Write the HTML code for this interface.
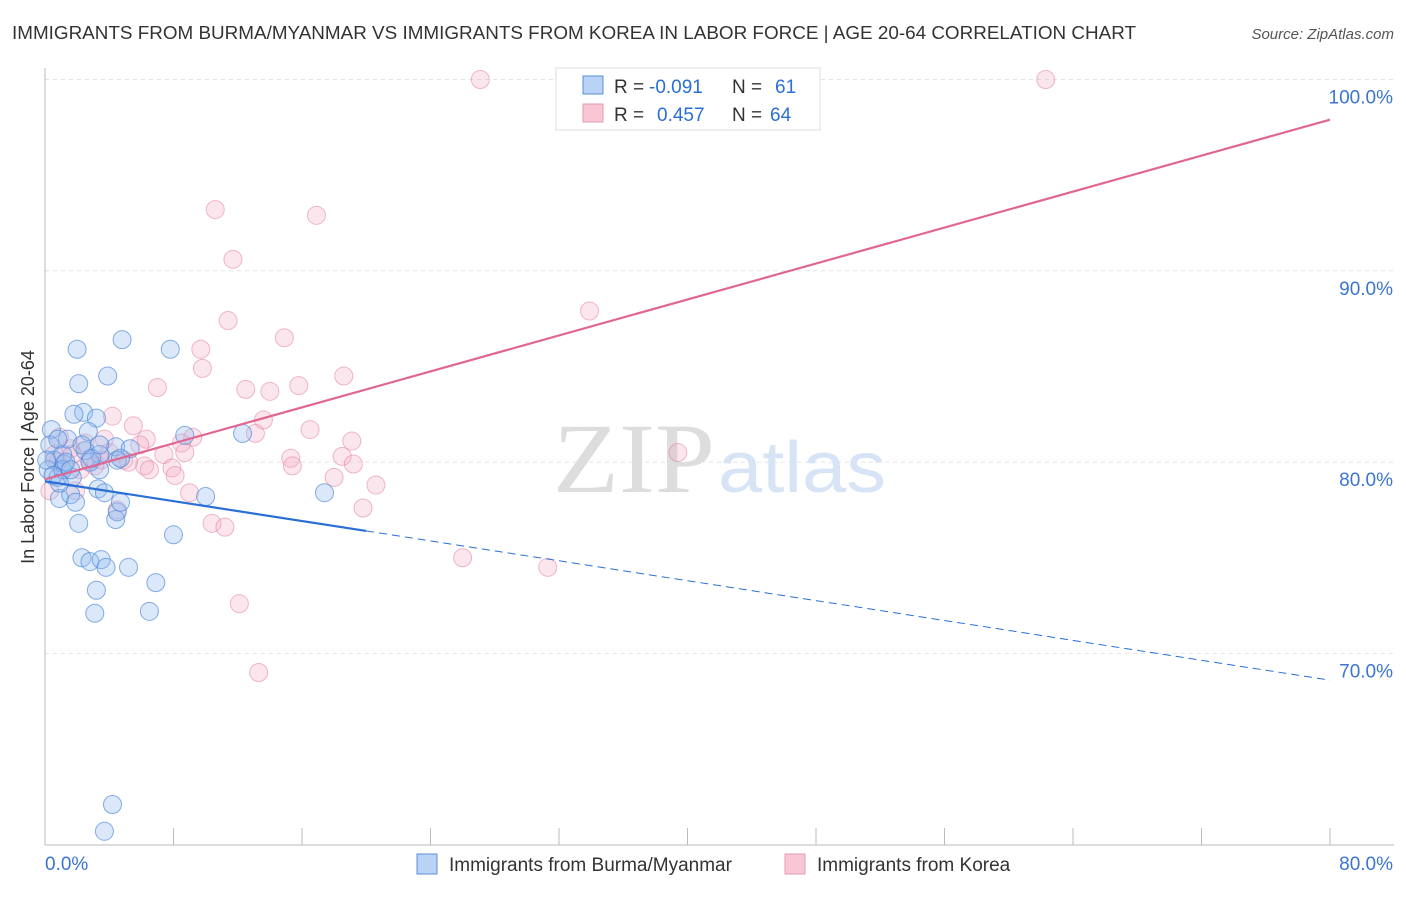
<!DOCTYPE html>
<html><head><meta charset="utf-8"><style>
body{margin:0;background:#fff;font-family:"Liberation Sans",sans-serif}
</style></head><body>
<svg width="1406" height="892" xmlns="http://www.w3.org/2000/svg" style="font-family:'Liberation Sans',sans-serif">
<text x="12" y="39" font-size="18.5" fill="#333" textLength="1124" lengthAdjust="spacingAndGlyphs">IMMIGRANTS FROM BURMA/MYANMAR VS IMMIGRANTS FROM KOREA IN LABOR FORCE | AGE 20-64 CORRELATION CHART</text>
<text x="1394" y="39" font-size="15" fill="#555" font-style="italic" text-anchor="end">Source: ZipAtlas.com</text>
<g id="grid"></g>
<g id="axes"></g>
<text x="553" y="492" font-size="100" fill="#ddd" font-family="Liberation Serif" textLength="162" lengthAdjust="spacingAndGlyphs">ZIP</text>
<text x="718" y="492" font-size="72" fill="#d6e4f5" textLength="168" lengthAdjust="spacingAndGlyphs">atlas</text>
<g id="pts"></g>
<g id="lines"></g>
<text transform="translate(34,457) rotate(-90)" font-size="18" fill="#333" text-anchor="middle">In Labor Force | Age 20-64</text>
<g>
<rect x="556" y="68" width="264" height="62" fill="#fff" stroke="#ddd"/>
<rect x="583" y="76" width="20" height="18" fill="#b8d3f5" stroke="#5b8fd8"/>
<rect x="583" y="104" width="20" height="18" fill="#f9c6d6" stroke="#e899b0"/>
<text x="614" y="93" font-size="19" fill="#333">R =</text>
<text x="649" y="93" font-size="19" fill="#2a6fd6">-0.091</text>
<text x="732" y="93" font-size="19" fill="#333">N =</text>
<text x="775" y="93" font-size="19" fill="#2a6fd6">61</text>
<text x="614" y="121" font-size="19" fill="#333">R =</text>
<text x="657" y="121" font-size="19" fill="#2a6fd6">0.457</text>
<text x="732" y="121" font-size="19" fill="#333">N =</text>
<text x="770" y="121" font-size="19" fill="#2a6fd6">64</text>
</g>
<g>
<rect x="417" y="854" width="20" height="20" fill="#b8d3f5" stroke="#5b8fd8"/>
<text x="449" y="871" font-size="19" fill="#333">Immigrants from Burma/Myanmar</text>
<rect x="785" y="854" width="20" height="20" fill="#f9c6d6" stroke="#e899b0"/>
<text x="817" y="871" font-size="19" fill="#333">Immigrants from Korea</text>
</g>
</svg>
<script>
const blueX=[0.4,0.3,0.6,0.2,0.8,0.9,1.2,1.6,1.7,1.9,1.1,1.4,2.1,2.3,2.8,3.2,3.1,3.5,3.8,3.4,3.3,3.7,4.4,4.5,4.7,5.2,6.5,6.9,8.0,10.0,8.7,12.3,17.4,2.0,2.1,4.8,7.8,3.9,2.4,1.8,3.2,2.7,4.4,5.3,4.5,3.4,2.5,1.1,1.3,4.2,3.7,0.1,0.8,0.5,2.8,1.6,2.3,0.9,2.9,3.4,4.7];
const blueY=[81.7,80.9,80.1,79.6,79.2,78.1,79.9,78.3,79.2,77.9,80.4,81.2,76.8,75.0,74.8,73.3,72.1,74.9,74.5,79.6,78.6,78.4,77.0,77.4,77.9,74.5,72.2,73.7,76.2,78.2,81.4,81.5,78.4,85.9,84.1,86.4,85.9,84.5,82.6,82.5,82.3,81.6,80.8,80.7,80.1,80.4,80.6,79.6,80.0,62.1,60.7,80.1,81.2,79.3,80.0,79.6,80.9,78.9,80.2,80.9,80.2];
const pinkX=[27.1,62.3,10.6,16.9,11.7,33.9,11.4,14.9,9.7,9.8,7.0,12.5,14.0,15.8,18.6,4.2,5.5,13.6,16.5,13.1,9.2,6.3,8.5,19.1,39.4,15.3,18.5,8.7,7.4,4.9,15.4,19.2,3.5,2.5,1.6,0.9,0.6,3.1,4.0,6.2,7.9,18.0,20.6,9.0,4.5,10.4,11.2,19.8,26.0,31.3,12.1,13.3,1.9,0.3,2.2,5.2,8.1,1.1,2.8,5.9,6.5,3.7,0.8,1.7];
const pinkY=[100,100,93.2,92.9,90.6,87.9,87.4,86.5,85.9,84.9,83.9,83.8,83.7,84.0,84.5,82.4,81.9,82.2,81.7,81.5,81.3,81.2,81.0,81.1,80.5,80.2,80.3,80.5,80.4,80.1,79.8,79.9,80.1,81.0,80.7,81.3,80.4,79.8,80.5,79.8,79.7,79.2,78.8,78.4,77.5,76.8,76.6,77.6,75.0,74.5,72.6,69.0,78.5,78.5,79.6,80.0,79.3,79.6,80.1,80.9,79.6,81.2,80.0,80.4];
const yTicks=[100,90,80,70];
const yTickLabels=["100.0%","90.0%","80.0%","70.0%"];
const blueTrend=[79.0,68.6];
const blueSolidEnd=20.0;
const pinkTrend=[79.1,97.9];
const NS="http://www.w3.org/2000/svg";
const sx=v=>45+v/80*1285;
const sy=v=>79.5+(100-v)*19.13;
function mk(tag,attrs,parent){const e=document.createElementNS(NS,tag);for(const k in attrs)e.setAttribute(k,attrs[k]);parent.appendChild(e);return e;}
const grid=document.getElementById('grid');
yTicks.forEach((t,i)=>{
 const l=mk('line',{x1:45,x2:1394,y1:sy(t),y2:sy(t),stroke:'#e4e4e4','stroke-dasharray':'4,4'},grid);
 
 
 const tx=mk('text',{x:1393,y:sy(t)+24,'font-size':19,fill:'#3a75d0','text-anchor':'end'},grid);
 tx.textContent=yTickLabels[i];
 
 
});
const axes=document.getElementById('axes');
mk('line',{x1:45,x2:45,y1:68,y2:845,stroke:'#bbb'},axes);
mk('line',{x1:45,x2:1394,y1:845,y2:845,stroke:'#bbb'},axes);
for(let i=0;i<=10;i++){mk('line',{x1:sx(i*8),x2:sx(i*8),y1:828,y2:845,stroke:'#bbb'},axes);}
const x0=mk('text',{x:45,y:870,'font-size':19,fill:'#3a75d0'},axes);x0.textContent='0.0%';


const x1=mk('text',{x:1393,y:870,'font-size':19,fill:'#3a75d0','text-anchor':'end'},axes);x1.textContent='80.0%';


const pts=document.getElementById('pts');
pinkX.forEach((x,i)=>{const c=mk('circle',{cx:sx(x),cy:sy(pinkY[i]),r:9,fill:'rgba(245,165,192,0.28)',stroke:'rgba(226,130,160,0.55)','stroke-width':1},pts);
 
 });
blueX.forEach((x,i)=>{const c=mk('circle',{cx:sx(x),cy:sy(blueY[i]),r:9,fill:'rgba(150,190,240,0.35)',stroke:'rgba(70,130,215,0.65)','stroke-width':1},pts);
 
 });
const lines=document.getElementById('lines');
const by=x=>blueTrend[0]+(blueTrend[1]-blueTrend[0])*x/80;
const py=x=>pinkTrend[0]+(pinkTrend[1]-pinkTrend[0])*x/80;
let l1=mk('line',{x1:sx(0),y1:sy(by(0)),x2:sx(blueSolidEnd),y2:sy(by(blueSolidEnd)),stroke:'#2a6fd6','stroke-width':2.2},lines);


let l2=mk('line',{x1:sx(blueSolidEnd),y1:sy(by(blueSolidEnd)),x2:sx(80),y2:sy(by(80)),stroke:'#2a6fd6','stroke-width':1,'stroke-dasharray':'8,5'},lines);


let l3=mk('line',{x1:sx(0),y1:sy(py(0)),x2:sx(80),y2:sy(py(80)),stroke:'#e06794','stroke-width':2.2},lines);


</script>
</body></html>
